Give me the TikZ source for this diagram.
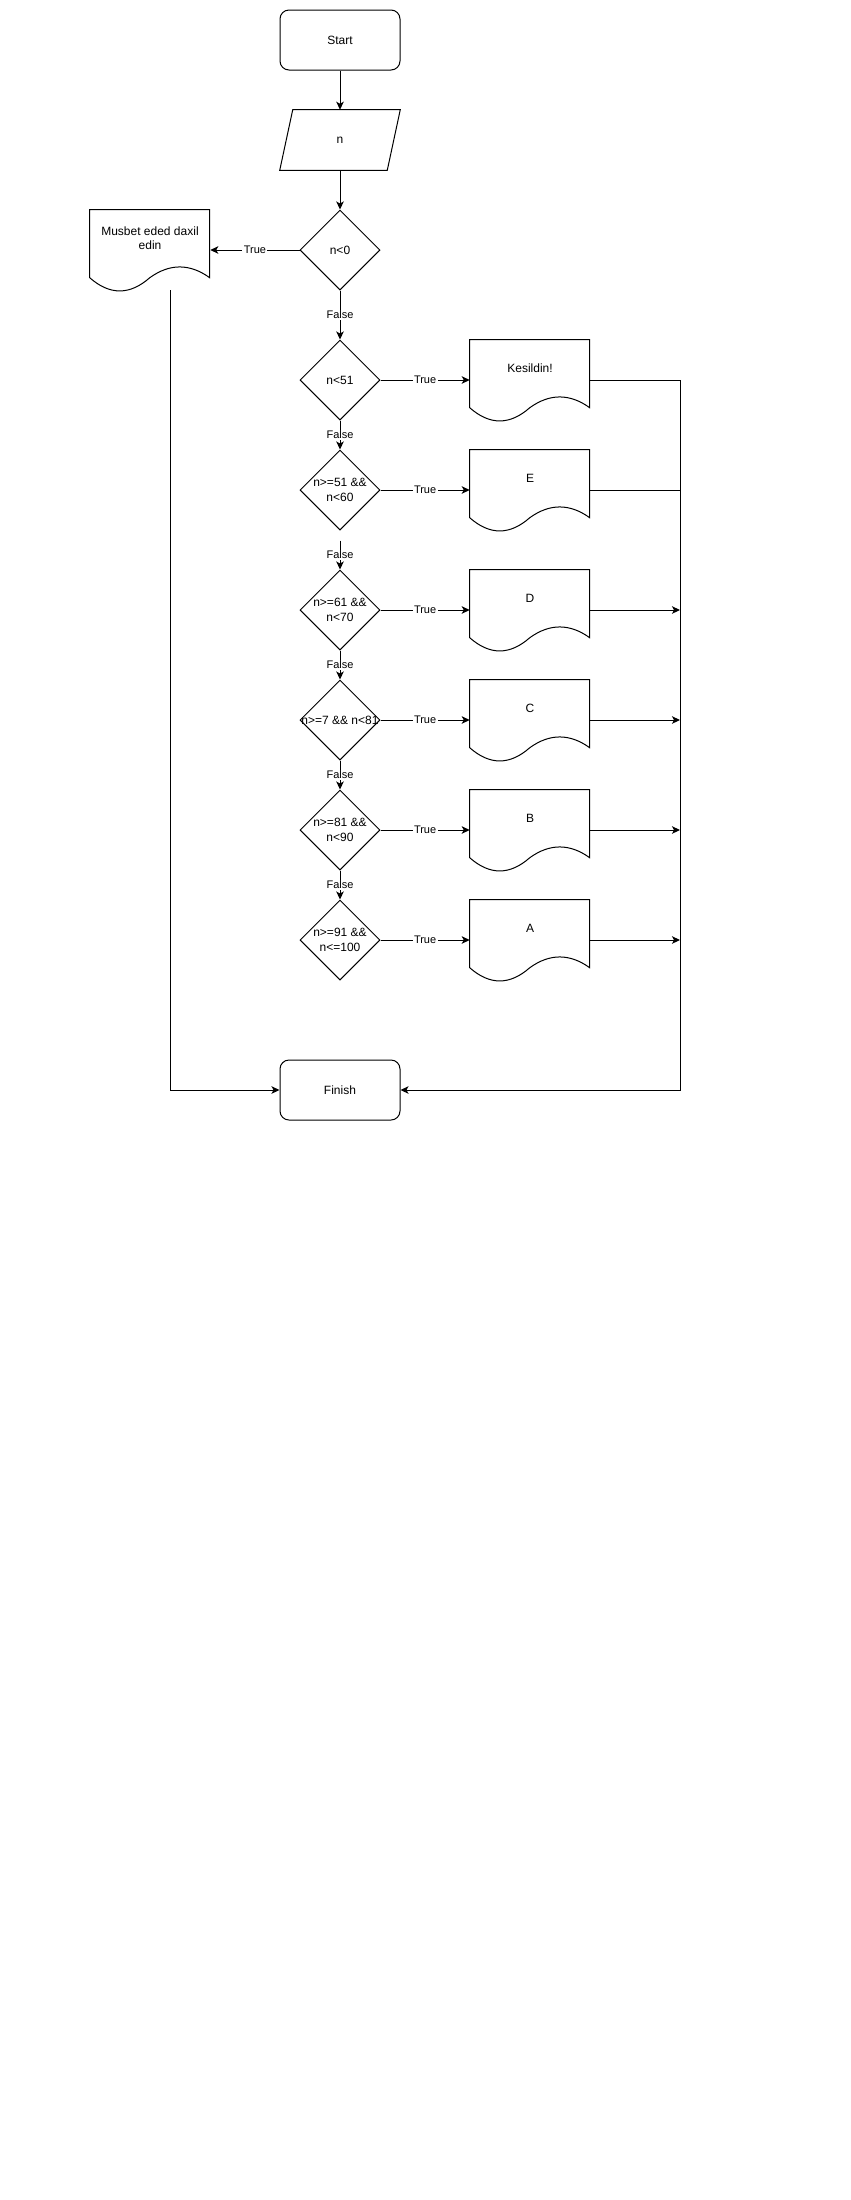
\documentclass[tikz,border=0pt]{standalone}
\usepackage{fontspec}
\setmainfont{Liberation Sans}
\usetikzlibrary{shapes.geometric,arrows.meta,calc}

\begin{document}
\begin{tikzpicture}[x=0.75pt,y=-0.75pt,
  every node/.style={font=\fontsize{9}{10.8}\selectfont},
  line/.style={draw=black, line width=0.75pt},
  arrow/.style={line, -{Stealth[length=6pt,width=5.6pt,inset=1.5pt]}},
  termbox/.style={draw, line width=0.75pt, rectangle, rounded corners=6.75pt,
    minimum width=90pt, minimum height=45pt, inner sep=0pt},
  iobox/.style={rectangle, minimum width=90pt, minimum height=45pt, inner sep=0pt},
  frame/.style={rectangle, minimum width=90pt, minimum height=60pt, inner sep=0pt},
  decision/.style={draw, line width=0.75pt, diamond, minimum width=60pt,
    minimum height=60pt, inner sep=0pt},
  doctext/.style={align=center, yshift=9pt},
  edgelbl/.style={fill=white, inner sep=1pt, font=\fontsize{8.25}{9.9}\selectfont},
]
% page
\fill[white] (0,0) rectangle (850,2200);
\useasboundingbox (0,0) rectangle (850,2200);

% terminals and input
\node[termbox] (start) at (340,40) {Start};
\node[iobox] (inp) at (340,140) {n};
\draw[line] ([xshift=9.75pt]inp.north west) -- (inp.north east)
  -- ([xshift=-9.75pt]inp.south east) -- (inp.south west) -- cycle;
\node[termbox] (fin) at (340,1090) {Finish};

% decisions
\node[decision, label={[align=center]center:{n<0}}] (q0) at (340,250) {};
\node[decision, label={[align=center]center:{n<51}}] (q1) at (340,380) {};
\node[decision, label={[align=center]center:{n>=51 \&\&\\n<60}}] (q2) at (340,490) {};
\node[decision, label={[align=center]center:{n>=61 \&\&\\n<70}}] (q3) at (340,610) {};
\node[decision, label={[align=center]center:{n>=7 \&\& n<81}}] (q4) at (340,720) {};
\node[decision, label={[align=center]center:{n>=81 \&\&\\n<90}}] (q5) at (340,830) {};
\node[decision, label={[align=center]center:{n>=91 \&\&\\n<=100}}] (q6) at (340,940) {};

% output documents
\node[frame, label={[doctext]center:{Musbet eded daxil\\edin}}] (msg) at (150,250) {};
\node[frame, label={[doctext]center:{Kesildin!}}] (kes) at (530,380) {};
\node[frame, label={[doctext]center:{E}}] (gE) at (530,490) {};
\node[frame, label={[doctext]center:{D}}] (gD) at (530,610) {};
\node[frame, label={[doctext]center:{C}}] (gC) at (530,720) {};
\node[frame, label={[doctext]center:{B}}] (gB) at (530,830) {};
\node[frame, label={[doctext]center:{A}}] (gA) at (530,940) {};
\foreach \d in {msg,kes,gE,gD,gC,gB,gA} {
  \begin{scope}[shift={(\d.north west)}]
    \draw[line] (0,0) -- (120,0) -- (120,68)
      .. controls (100,53.6) and (80,53.6) .. (60,68)
      .. controls (40,85.6) and (20,85.6) .. (0,68) -- cycle;
  \end{scope}
}

% main flow
\draw[arrow] (start) -- (inp);
\draw[arrow] (inp) -- (q0);
\draw[arrow] (q0) -- node[edgelbl]{True} (msg);
\draw[arrow] (q0) -- node[edgelbl]{False} (q1);
\draw[arrow] (q1) -- node[edgelbl]{False} (q2);
\coordinate (q2out) at ($(q2.south)+(0,10)$);
\draw[arrow] (q2out) -- node[edgelbl]{False} (q3);
\draw[arrow] (q3) -- node[edgelbl]{False} (q4);
\draw[arrow] (q4) -- node[edgelbl]{False} (q5);
\draw[arrow] (q5) -- node[edgelbl]{False} (q6);

% true branches
\draw[arrow] (q1) -- node[edgelbl]{True} (kes);
\draw[arrow] (q2) -- node[edgelbl]{True} (gE);
\draw[arrow] (q3) -- node[edgelbl]{True} (gD);
\draw[arrow] (q4) -- node[edgelbl]{True} (gC);
\draw[arrow] (q5) -- node[edgelbl]{True} (gB);
\draw[arrow] (q6) -- node[edgelbl]{True} (gA);

% collecting line on the right
\coordinate (rtop) at (680,380);
\coordinate (rbot) at (680,1090);
\draw[arrow] (kes.east) -- (rtop) -- (rbot) -- (fin.east);
\draw[line] (gE.east) -- (gE.east -| rtop);
\draw[arrow] (gD.east) -- (gD.east -| rtop);
\draw[arrow] (gC.east) -- (gC.east -| rtop);
\draw[arrow] (gB.east) -- (gB.east -| rtop);
\draw[arrow] (gA.east) -- (gA.east -| rtop);

% left return line
\coordinate (msgout) at (170,290);
\draw[arrow] (msgout) |- (fin.west);
\end{tikzpicture}
\end{document}
